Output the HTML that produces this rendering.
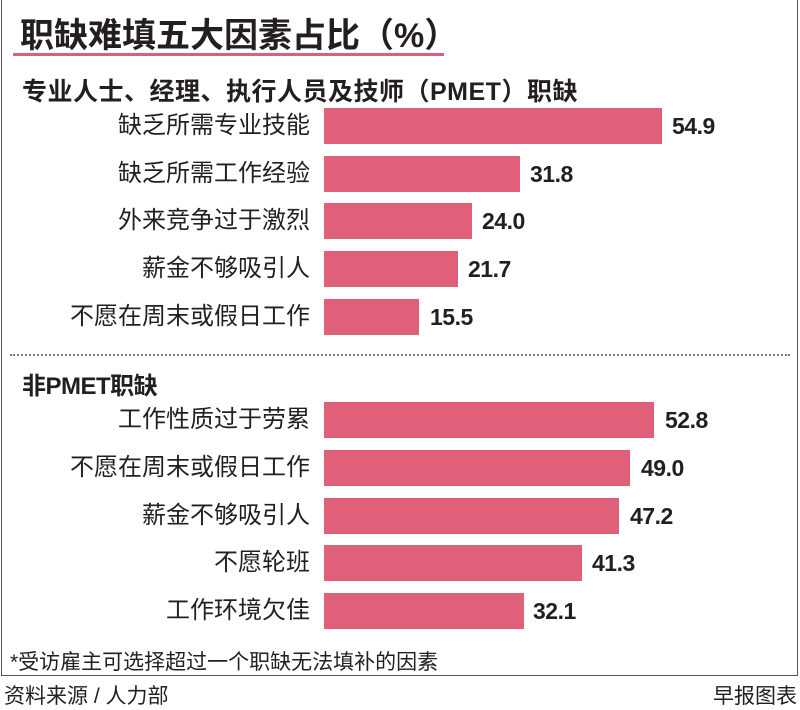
<!DOCTYPE html>
<html><head><meta charset="utf-8"><style>
body{margin:0;width:800px;height:709px;background:#fff;position:relative;overflow:hidden;font-family:"Liberation Sans","Noto Sans CJK SC",sans-serif;color:#231f20}
.box{position:absolute;left:1px;top:0;width:795px;height:675px;border:1px solid #555;border-top:none}
.t{position:absolute;white-space:nowrap}
.lab{position:absolute;right:490px;font-size:24px;white-space:nowrap;line-height:36px}
.bar{position:absolute;left:324px;height:36px;background:#e0607a}
.val{position:absolute;font-size:23px;font-weight:bold;line-height:36px;letter-spacing:-0.5px}
</style></head><body>
<div class="box"></div>
<div class="t" style="left:20px;top:8px;font-size:34px;font-weight:bold;letter-spacing:0px">职缺难填五大因素占比（%）</div>
<div style="position:absolute;left:13px;top:53px;width:431px;height:3px;background:#d9607a"></div>
<div class="t" style="left:22px;top:72px;font-size:25px;font-weight:bold;letter-spacing:0.5px">专业人士、经理、执行人员及技师（PMET）职缺</div>
<div class="t" style="left:22px;top:366px;font-size:24px;font-weight:bold;letter-spacing:-0.5px">非PMET职缺</div>
<div style="position:absolute;left:10px;top:354px;width:780px;border-top:2px dotted #777"></div>

<div class="lab" style="top:108px">缺乏所需专业技能</div><div class="bar" style="top:108px;width:338px"></div><div class="val" style="top:108px;left:672px">54.9</div>
<div class="lab" style="top:156px">缺乏所需工作经验</div><div class="bar" style="top:156px;width:196px"></div><div class="val" style="top:156px;left:530px">31.8</div>
<div class="lab" style="top:203px">外来竞争过于激烈</div><div class="bar" style="top:203px;width:148px"></div><div class="val" style="top:203px;left:482px">24.0</div>
<div class="lab" style="top:251px">薪金不够吸引人</div><div class="bar" style="top:251px;width:134px"></div><div class="val" style="top:251px;left:468px">21.7</div>
<div class="lab" style="top:299px">不愿在周末或假日工作</div><div class="bar" style="top:299px;width:95px"></div><div class="val" style="top:299px;left:430px">15.5</div>

<div class="lab" style="top:402px">工作性质过于劳累</div><div class="bar" style="top:402px;width:330px"></div><div class="val" style="top:402px;left:665px">52.8</div>
<div class="lab" style="top:450px">不愿在周末或假日工作</div><div class="bar" style="top:450px;width:306px"></div><div class="val" style="top:450px;left:641px">49.0</div>
<div class="lab" style="top:498px">薪金不够吸引人</div><div class="bar" style="top:498px;width:295px"></div><div class="val" style="top:498px;left:630px">47.2</div>
<div class="lab" style="top:545px">不愿轮班</div><div class="bar" style="top:545px;width:258px"></div><div class="val" style="top:545px;left:592px">41.3</div>
<div class="lab" style="top:593px">工作环境欠佳</div><div class="bar" style="top:593px;width:200px"></div><div class="val" style="top:593px;left:533px">32.1</div>

<div class="t" style="left:10px;top:646px;font-size:21px">*受访雇主可选择超过一个职缺无法填补的因素</div>
<div class="t" style="left:4px;top:680px;font-size:21px">资料来源 / 人力部</div>
<div class="t" style="right:3px;top:680px;font-size:21px">早报图表</div>
</body></html>
